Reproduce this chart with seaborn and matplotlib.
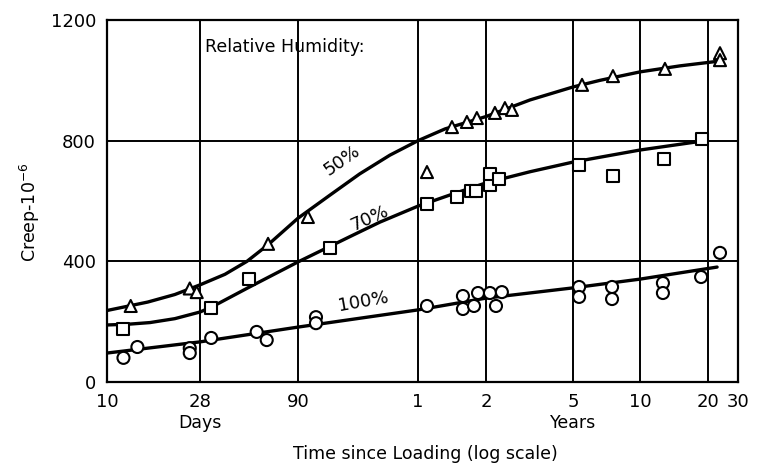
import numpy as np
import pandas as pd
import seaborn as sns
import matplotlib
matplotlib.use("Agg")
import matplotlib.pyplot as plt
import matplotlib.transforms as mtrans

# --- measured points (time in days, creep in 10^-6) ---
rh50_days = [13, 25, 27, 63, 101, 400, 516, 601, 665, 802, 891, 960, 2005, 2761, 4710, 8590, 8590]
rh50_creep = [252, 310, 298, 458, 547, 696, 845, 862, 875, 892, 908, 902, 985, 1014, 1038, 1090, 1067]

rh70_days = [12, 32, 50, 131, 400, 543, 627, 659, 761, 761, 837, 1945, 2761, 4667, 6870]
rh70_creep = [176, 245, 341, 444, 590, 613, 633, 633, 653, 690, 673, 719, 683, 739, 805]

rh100_days = [12, 14, 25, 25, 32, 55, 62, 111, 111, 400, 577, 577, 646, 673, 761, 811, 863,
              1945, 1945, 2735, 2735, 4613, 4613, 6808, 8590]
rh100_creep = [80, 116, 112, 96, 146, 166, 139, 215, 195, 252, 285, 242, 252, 295, 295, 252, 298,
               315, 282, 315, 275, 328, 295, 348, 428]

# --- fitted curves ---
fit50_days = [10, 15.7, 21.2, 28, 37.7, 49, 63, 90, 131, 185, 263, 365, 481, 730, 1161,
              1826, 2415, 3652, 5495, 8590]
fit50_creep = [237, 265, 290, 322, 357, 400, 455, 543, 620, 690, 752, 800, 839, 880, 935,
               978, 1000, 1028, 1048, 1064]

fit70_days = [10, 12.9, 16.1, 21.2, 28, 32.3, 49.5, 90, 131, 165, 234, 365, 506, 730, 1161,
              1826, 3652, 7100]
fit70_creep = [189, 192, 197, 210, 232, 249, 312, 398, 450, 482, 530, 583, 620, 660, 697,
               729, 769, 800]

fit100_days = [10, 28, 90, 365, 730, 1826, 3652, 8260]
fit100_creep = [96, 133, 182, 239, 278, 312, 341, 381]

tick_days = [10, 28, 90, 365, 730, 1826, 3652, 7305, 10957]
tick_labels = ["10", "28", "90", "1", "2", "5", "10", "20", "30"]
y_ticks = [0, 400, 800, 1200]

# the printed log axis is hand drawn: where each gridline sits (fraction of width)
grid_frac = np.array([0, 93, 191, 311, 379, 466, 533, 601, 631]) / 631
grid_log = np.log10(tick_days)


def fwd(x):
    x = np.clip(np.asarray(x, dtype=float), 1e-3, None)
    return np.interp(np.log10(x), grid_log, grid_frac)


def inv(f):
    return 10 ** np.interp(f, grid_frac, grid_log)


points = pd.concat([
    pd.DataFrame({"days": rh50_days, "creep": rh50_creep, "rh": "50%"}),
    pd.DataFrame({"days": rh70_days, "creep": rh70_creep, "rh": "70%"}),
    pd.DataFrame({"days": rh100_days, "creep": rh100_creep, "rh": "100%"}),
])
fits = pd.concat([
    pd.DataFrame({"days": fit50_days, "creep": fit50_creep, "rh": "50%"}),
    pd.DataFrame({"days": fit70_days, "creep": fit70_creep, "rh": "70%"}),
    pd.DataFrame({"days": fit100_days, "creep": fit100_creep, "rh": "100%"}),
])

sns.set_style("white")
plt.rcParams["font.family"] = ["DejaVu Sans"]
plt.rcParams["text.color"] = "black"

fig = plt.figure(figsize=(7.57, 4.68), dpi=100)
ax = fig.add_axes([107 / 757, 1 - 382 / 468, 631 / 757, 362 / 468])

ax.set_xscale("function", functions=(fwd, inv))
ax.set_xlim(10, 10957)
ax.set_ylim(0, 1200)

# grid
for x in tick_days[1:-1]:
    ax.axvline(x, color="black", lw=1.4, zorder=1)
for y in y_ticks[1:-1]:
    ax.axhline(y, color="black", lw=1.4, zorder=1)

sns.lineplot(data=fits, x="days", y="creep", units="rh", estimator=None,
             color="black", lw=2.4, ax=ax, zorder=2, sort=True)
sns.scatterplot(data=points, x="days", y="creep", style="rh",
                markers={"50%": "^", "70%": "s", "100%": "o"},
                facecolor="white", edgecolor="black", linewidth=1.5, s=75,
                legend=False, ax=ax, zorder=3)

ax.set_xticks(tick_days)
ax.set_xticklabels(tick_labels)
ax.xaxis.set_minor_locator(matplotlib.ticker.NullLocator())
ax.set_yticks(y_ticks)
ax.tick_params(length=0, labelsize=13, pad=8, colors="black")
for s in ax.spines.values():
    s.set_color("black")
    s.set_linewidth(1.6)

ax.set_xlabel("")
ax.set_ylabel("")

# curve labels
ax.text(150, 736, "50%", rotation=35, fontsize=13, ha="center", va="center")
ax.text(208, 544, "70%", rotation=24, fontsize=13, ha="center", va="center")
ax.text(192, 265, "100%", rotation=10, fontsize=13, ha="center", va="center")
ax.text(0.155, 0.925, "Relative Humidity:", transform=ax.transAxes,
        fontsize=12.5, ha="left", va="center")

tr = mtrans.blended_transform_factory(ax.transData, ax.transAxes)
ax.text(28, -0.113, "Days", transform=tr, fontsize=12.5, ha="center", va="center")
ax.text(1826, -0.113, "Years", transform=tr, fontsize=12.5, ha="center", va="center")
ax.text(0.504, -0.20, "Time since Loading (log scale)", transform=ax.transAxes,
        fontsize=12.5, ha="center", va="center")
fig.text(30 / 757, 1 - 212 / 468, "Creep-10$^{-6}$", rotation=90,
         fontsize=12.5, ha="center", va="center")

fig.savefig("out.png", dpi=100, facecolor="white")
